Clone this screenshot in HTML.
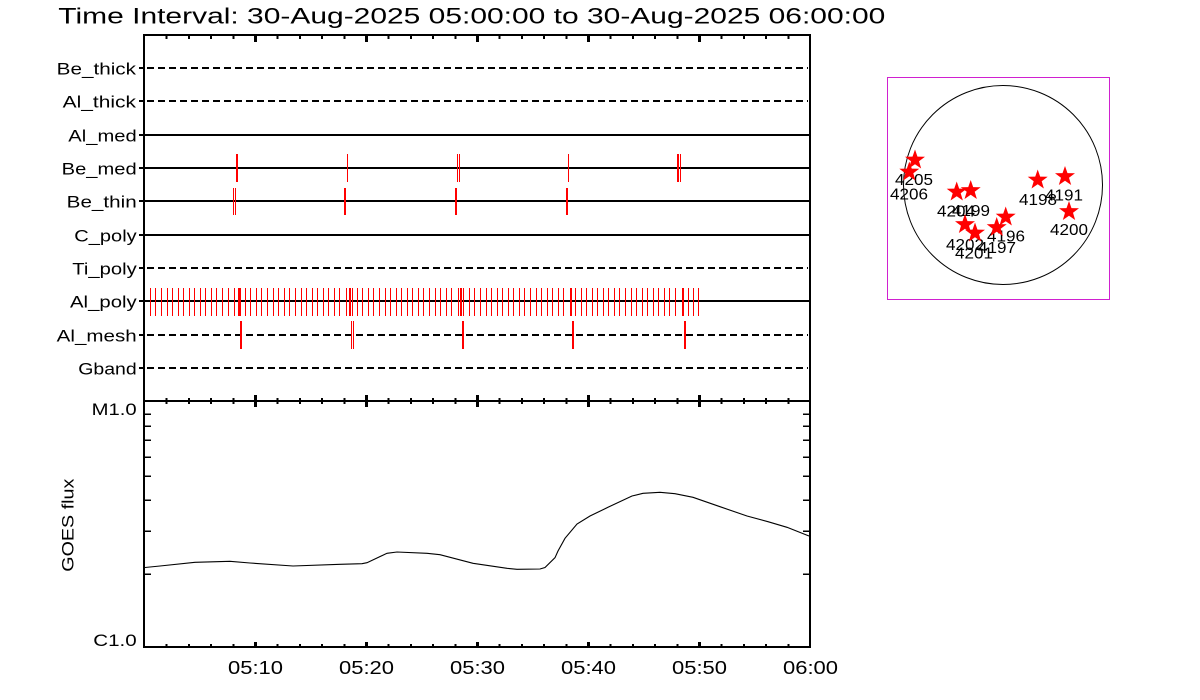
<!DOCTYPE html>
<html>
<head>
<meta charset="utf-8">
<style>
html,body{margin:0;padding:0;background:#fff;}
svg{display:block;}
text{font-family:"Liberation Sans",sans-serif;fill:#000;}
</style>
</head>
<body>
<svg width="1200" height="700" viewBox="0 0 1200 700" xmlns="http://www.w3.org/2000/svg">
<rect width="1200" height="700" fill="#fff"/>

<!-- Title -->
<text x="58.3" y="23.3" font-size="22" textLength="827" lengthAdjust="spacingAndGlyphs">Time Interval: 30-Aug-2025 05:00:00 to 30-Aug-2025 06:00:00</text>

<!-- Row labels -->
<g font-size="16.5">
<text x="56.7" y="74.5" textLength="79.3" lengthAdjust="spacingAndGlyphs">Be_thick</text>
<text x="62.7" y="107.5" textLength="73.3" lengthAdjust="spacingAndGlyphs">Al_thick</text>
<text x="68.3" y="141.5" textLength="68.4" lengthAdjust="spacingAndGlyphs">Al_med</text>
<text x="61.7" y="174.5" textLength="75" lengthAdjust="spacingAndGlyphs">Be_med</text>
<text x="66.7" y="207.5" textLength="70" lengthAdjust="spacingAndGlyphs">Be_thin</text>
<text x="74.3" y="241.5" textLength="62.4" lengthAdjust="spacingAndGlyphs">C_poly</text>
<text x="72.3" y="274.5" textLength="64.4" lengthAdjust="spacingAndGlyphs">Ti_poly</text>
<text x="70" y="307.5" textLength="66.7" lengthAdjust="spacingAndGlyphs">Al_poly</text>
<text x="56.7" y="341.5" textLength="80" lengthAdjust="spacingAndGlyphs">Al_mesh</text>
<text x="78.3" y="374.5" textLength="58.4" lengthAdjust="spacingAndGlyphs">Gband</text>
</g>

<g shape-rendering="crispEdges" stroke="#000" fill="none">
<!-- Row lines: solid -->
<path stroke-width="2" d="M144 135H810 M144 168H810 M144 201H810 M144 235H810 M144 301H810"/>
<!-- Row lines: dashed -->
<path stroke-width="2" stroke-dasharray="7 4" d="M147 68H808 M147 101H808 M147 268H808 M147 335H808 M147 368H808"/>
<!-- left small row ticks -->
<path stroke-width="2" d="M139 68H144 M139 101H144 M139 135H144 M139 168H144 M139 201H144 M139 235H144 M139 268H144 M139 301H144 M139 335H144 M139 368H144"/>
</g>

<!-- Event markers (red) -->
<g fill="#ff0000" shape-rendering="crispEdges">
<!-- Be_med -->
<rect x="236" y="154" width="2" height="28"/>
<rect x="347" y="154" width="1" height="28"/>
<rect x="457" y="154" width="1" height="28"/>
<rect x="459" y="154" width="1" height="28"/>
<rect x="568" y="154" width="1" height="28"/>
<rect x="677" y="154" width="2" height="28"/>
<rect x="680" y="154" width="1" height="28"/>
<!-- Be_thin -->
<rect x="233" y="188" width="1" height="27"/>
<rect x="235" y="188" width="1" height="27"/>
<rect x="344" y="188" width="2" height="27"/>
<rect x="455" y="188" width="2" height="27"/>
<rect x="566" y="188" width="2" height="27"/>
<!-- Al_mesh -->
<rect x="240" y="321" width="2" height="28"/>
<rect x="351" y="321" width="1" height="28"/>
<rect x="353" y="321" width="1" height="28"/>
<rect x="462" y="321" width="2" height="28"/>
<rect x="572" y="321" width="2" height="28"/>
<rect x="684" y="321" width="2" height="28"/>
</g>
<!-- Al_poly -->
<g fill="#ff0000" shape-rendering="crispEdges">
<rect x="144" y="288" width="1" height="28"/><rect x="150" y="288" width="1" height="28"/><rect x="155" y="288" width="1" height="28"/><rect x="161" y="288" width="1" height="28"/><rect x="167" y="288" width="1" height="28"/><rect x="172" y="288" width="1" height="28"/><rect x="178" y="288" width="1" height="28"/><rect x="183" y="288" width="1" height="28"/><rect x="189" y="288" width="1" height="28"/><rect x="194" y="288" width="1" height="28"/><rect x="200" y="288" width="1" height="28"/><rect x="205" y="288" width="1" height="28"/><rect x="211" y="288" width="1" height="28"/><rect x="216" y="288" width="1" height="28"/><rect x="222" y="288" width="1" height="28"/><rect x="228" y="288" width="1" height="28"/><rect x="234" y="288" width="1" height="28"/>
<rect x="238" y="288" width="3" height="28"/>
<rect x="245" y="288" width="1" height="28"/><rect x="250" y="288" width="1" height="28"/><rect x="256" y="288" width="1" height="28"/><rect x="261" y="288" width="1" height="28"/><rect x="267" y="288" width="1" height="28"/><rect x="273" y="288" width="1" height="28"/><rect x="278" y="288" width="1" height="28"/><rect x="284" y="288" width="1" height="28"/><rect x="289" y="288" width="1" height="28"/><rect x="295" y="288" width="1" height="28"/><rect x="301" y="288" width="1" height="28"/><rect x="306" y="288" width="1" height="28"/><rect x="312" y="288" width="1" height="28"/><rect x="317" y="288" width="1" height="28"/><rect x="323" y="288" width="1" height="28"/><rect x="328" y="288" width="1" height="28"/><rect x="334" y="288" width="1" height="28"/><rect x="339" y="288" width="1" height="28"/>
<rect x="346" y="288" width="1" height="28"/><rect x="349" y="288" width="2" height="28"/><rect x="352" y="288" width="1" height="28"/>
<rect x="357" y="288" width="1" height="28"/><rect x="362" y="288" width="1" height="28"/><rect x="368" y="288" width="1" height="28"/><rect x="373" y="288" width="1" height="28"/><rect x="379" y="288" width="1" height="28"/><rect x="385" y="288" width="1" height="28"/><rect x="390" y="288" width="1" height="28"/><rect x="396" y="288" width="1" height="28"/><rect x="401" y="288" width="1" height="28"/><rect x="407" y="288" width="1" height="28"/><rect x="412" y="288" width="1" height="28"/><rect x="418" y="288" width="1" height="28"/><rect x="423" y="288" width="1" height="28"/><rect x="429" y="288" width="1" height="28"/><rect x="435" y="288" width="1" height="28"/><rect x="440" y="288" width="1" height="28"/><rect x="446" y="288" width="1" height="28"/><rect x="451" y="288" width="1" height="28"/>
<rect x="458" y="288" width="1" height="28"/><rect x="460" y="288" width="2" height="28"/><rect x="463" y="288" width="1" height="28"/>
<rect x="469" y="288" width="1" height="28"/><rect x="474" y="288" width="1" height="28"/><rect x="480" y="288" width="1" height="28"/><rect x="486" y="288" width="1" height="28"/><rect x="491" y="288" width="1" height="28"/><rect x="497" y="288" width="1" height="28"/><rect x="502" y="288" width="1" height="28"/><rect x="508" y="288" width="1" height="28"/><rect x="513" y="288" width="1" height="28"/><rect x="519" y="288" width="1" height="28"/><rect x="524" y="288" width="1" height="28"/><rect x="530" y="288" width="1" height="28"/><rect x="536" y="288" width="1" height="28"/><rect x="541" y="288" width="1" height="28"/><rect x="547" y="288" width="1" height="28"/><rect x="552" y="288" width="1" height="28"/><rect x="558" y="288" width="1" height="28"/><rect x="563" y="288" width="1" height="28"/>
<rect x="570" y="288" width="2" height="28"/>
<rect x="575" y="288" width="1" height="28"/><rect x="581" y="288" width="1" height="28"/><rect x="586" y="288" width="1" height="28"/><rect x="592" y="288" width="1" height="28"/><rect x="597" y="288" width="1" height="28"/><rect x="603" y="288" width="1" height="28"/><rect x="608" y="288" width="1" height="28"/><rect x="614" y="288" width="1" height="28"/><rect x="619" y="288" width="1" height="28"/><rect x="625" y="288" width="1" height="28"/><rect x="631" y="288" width="1" height="28"/><rect x="636" y="288" width="1" height="28"/><rect x="642" y="288" width="1" height="28"/><rect x="647" y="288" width="1" height="28"/><rect x="653" y="288" width="1" height="28"/><rect x="658" y="288" width="1" height="28"/><rect x="664" y="288" width="1" height="28"/><rect x="669" y="288" width="1" height="28"/><rect x="675" y="288" width="1" height="28"/>
<rect x="682" y="288" width="2" height="28"/>
<rect x="688" y="288" width="1" height="28"/><rect x="693" y="288" width="1" height="28"/><rect x="698" y="288" width="1" height="28"/>
</g>

<!-- Axes frames -->
<g shape-rendering="crispEdges" stroke="#000" fill="none">
<path stroke-width="2" d="M144 34V648 M810 34V648 M143 35H811 M143 401H811 M143 647H811"/>
<!-- top axis ticks (down) -->
<path stroke-width="2" d="M166.7 35v4 M188.9 35v4 M211.1 35v4 M233.3 35v4 M277.7 35v4 M299.9 35v4 M322.1 35v4 M344.3 35v4 M388.7 35v4 M410.9 35v4 M433.1 35v4 M455.3 35v4 M499.7 35v4 M521.9 35v4 M544.1 35v4 M566.3 35v4 M610.7 35v4 M632.9 35v4 M655.1 35v4 M677.3 35v4 M721.7 35v4 M743.9 35v4 M766.1 35v4 M788.3 35v4"/>
<path stroke-width="3" d="M255.5 35v7 M366.5 35v7 M477.5 35v7 M588.5 35v7 M699.5 35v7"/>
<!-- boundary ticks (both sides) -->
<path stroke-width="2" d="M166.7 398v6 M188.9 398v6 M211.1 398v6 M233.3 398v6 M277.7 398v6 M299.9 398v6 M322.1 398v6 M344.3 398v6 M388.7 398v6 M410.9 398v6 M433.1 398v6 M455.3 398v6 M499.7 398v6 M521.9 398v6 M544.1 398v6 M566.3 398v6 M610.7 398v6 M632.9 398v6 M655.1 398v6 M677.3 398v6 M721.7 398v6 M743.9 398v6 M766.1 398v6 M788.3 398v6"/>
<path stroke-width="3" d="M255.5 395v12 M366.5 395v12 M477.5 395v12 M588.5 395v12 M699.5 395v12"/>
<!-- bottom axis ticks (up) -->
<path stroke-width="2" d="M166.7 644v3 M188.9 644v3 M211.1 644v3 M233.3 644v3 M277.7 644v3 M299.9 644v3 M322.1 644v3 M344.3 644v3 M388.7 644v3 M410.9 644v3 M433.1 644v3 M455.3 644v3 M499.7 644v3 M521.9 644v3 M544.1 644v3 M566.3 644v3 M610.7 644v3 M632.9 644v3 M655.1 644v3 M677.3 644v3 M721.7 644v3 M743.9 644v3 M766.1 644v3 M788.3 644v3"/>
<path stroke-width="3" d="M255.5 642v5 M366.5 642v5 M477.5 642v5 M588.5 642v5 M699.5 642v5"/>
<!-- log minor ticks left & right -->
<path stroke-width="1.5" d="M144 414H151 M144 426H151 M144 440H151 M144 457H151 M144 476H151 M144 500H151 M144 531H151 M144 574H151 M810 414H803 M810 426H803 M810 440H803 M810 457H803 M810 476H803 M810 500H803 M810 531H803 M810 574H803"/>
</g>

<!-- GOES curve -->
<polyline fill="none" stroke="#000" stroke-width="1.1" points="145,567.5 160,566 195,562.3 230,561.3 250,563 293,566 340,564.3 362,563.7 367,562.7 387,553.3 397,552 427,553.3 440,554.7 473,563.3 507,568.3 517,569.3 540,569 545,567.5 555,557.7 558,551 565,538.3 577,524 590,516 608,507.3 632,496 643,493.3 660,492.3 675,493.7 693,497.3 720,506.7 747,516 768,521.7 787,527.3 809,536"/>

<!-- Y labels -->
<g font-size="16.5">
<text x="91.7" y="415" textLength="45" lengthAdjust="spacingAndGlyphs">M1.0</text>
<text x="93.3" y="646" textLength="43.4" lengthAdjust="spacingAndGlyphs">C1.0</text>
<text transform="translate(73.3,571.7) rotate(-90)" x="0" y="0" textLength="93" lengthAdjust="spacingAndGlyphs">GOES flux</text>
</g>

<!-- X tick labels -->
<g font-size="18">
<text x="228" y="674" textLength="55" lengthAdjust="spacingAndGlyphs">05:10</text>
<text x="339" y="674" textLength="55" lengthAdjust="spacingAndGlyphs">05:20</text>
<text x="450" y="674" textLength="55" lengthAdjust="spacingAndGlyphs">05:30</text>
<text x="561" y="674" textLength="55" lengthAdjust="spacingAndGlyphs">05:40</text>
<text x="672" y="674" textLength="55" lengthAdjust="spacingAndGlyphs">05:50</text>
<text x="783" y="674" textLength="55" lengthAdjust="spacingAndGlyphs">06:00</text>
</g>

<!-- Solar disk panel -->
<rect x="887.5" y="77.5" width="222" height="222" fill="none" stroke="#d020d0" stroke-width="1" shape-rendering="crispEdges"/>
<circle cx="1003" cy="185" r="99.5" fill="none" stroke="#000" stroke-width="1"/>
<defs>
<polygon id="st" points="0,-10.5 2.47,-3.4 9.99,-3.25 4,1.3 6.17,8.5 0,4.2 -6.17,8.5 -4,1.3 -9.99,-3.25 -2.47,-3.4" fill="#ff0000"/>
</defs>
<g font-size="16">
<text x="895" y="185" textLength="38" lengthAdjust="spacingAndGlyphs">4205</text>
<text x="890" y="199.3" textLength="38" lengthAdjust="spacingAndGlyphs">4206</text>
<text x="937" y="216.7" textLength="38" lengthAdjust="spacingAndGlyphs">4204</text>
<text x="952" y="216" textLength="38" lengthAdjust="spacingAndGlyphs">4199</text>
<text x="946" y="250" textLength="38" lengthAdjust="spacingAndGlyphs">4202</text>
<text x="955" y="258.3" textLength="38" lengthAdjust="spacingAndGlyphs">4201</text>
<text x="978" y="253" textLength="38" lengthAdjust="spacingAndGlyphs">4197</text>
<text x="987" y="241.7" textLength="38" lengthAdjust="spacingAndGlyphs">4196</text>
<text x="1019" y="205" textLength="38" lengthAdjust="spacingAndGlyphs">4198</text>
<text x="1045" y="200.7" textLength="38" lengthAdjust="spacingAndGlyphs">4191</text>
<text x="1050" y="235" textLength="38" lengthAdjust="spacingAndGlyphs">4200</text>
</g>
<use href="#st" x="915" y="160"/>
<use href="#st" x="909.3" y="172"/>
<use href="#st" x="956.7" y="192"/>
<use href="#st" x="970.7" y="190.5"/>
<use href="#st" x="965" y="224.5"/>
<use href="#st" x="975" y="233"/>
<use href="#st" x="996.7" y="227.5"/>
<use href="#st" x="1005.7" y="217"/>
<use href="#st" x="1037.7" y="180"/>
<use href="#st" x="1065" y="176.5"/>
<use href="#st" x="1069" y="211.5"/>
</svg>
</body>
</html>
